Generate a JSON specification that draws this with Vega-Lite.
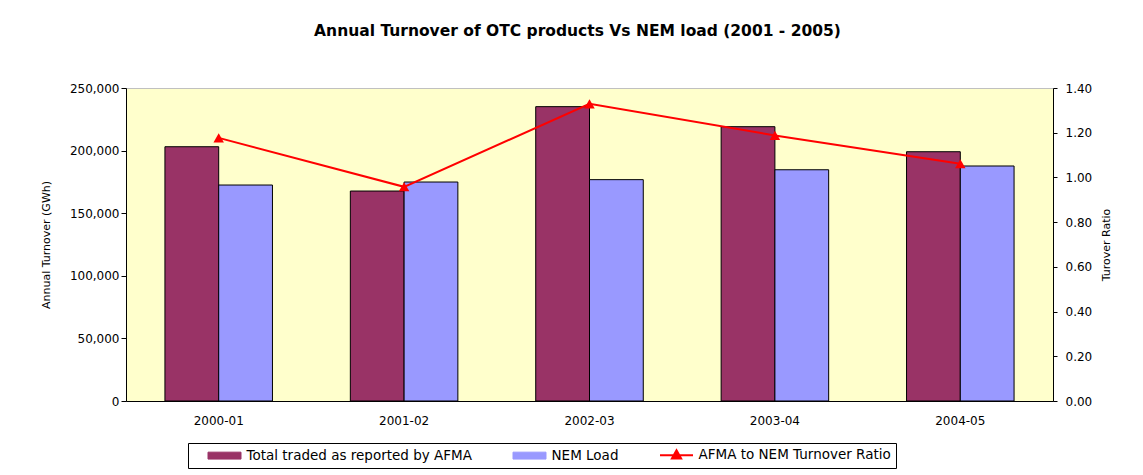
{
  "$schema": "https://vega.github.io/schema/vega-lite/v6.json",
  "width": 927,
  "height": 313,
  "autosize": {"type": "none"},
  "padding": {"left": 126, "top": 88, "right": 90, "bottom": 74},
  "background": "white",
  "title": {
    "text": "Annual Turnover of OTC products Vs NEM load (2001 - 2005)",
    "font": "DejaVu Sans",
    "fontSize": 15.5,
    "fontWeight": "bold",
    "color": "black",
    "anchor": "middle",
    "frame": "group",
    "dx": -12,
    "offset": 43
  },
  "datasets": {
    "bars": [
      {"year": "2000-01", "series": "Total traded as reported by AFMA", "value": 203100},
      {"year": "2000-01", "series": "NEM Load", "value": 172500},
      {"year": "2001-02", "series": "Total traded as reported by AFMA", "value": 167700},
      {"year": "2001-02", "series": "NEM Load", "value": 174900},
      {"year": "2002-03", "series": "Total traded as reported by AFMA", "value": 235100},
      {"year": "2002-03", "series": "NEM Load", "value": 176800},
      {"year": "2003-04", "series": "Total traded as reported by AFMA", "value": 219100},
      {"year": "2003-04", "series": "NEM Load", "value": 184700},
      {"year": "2004-05", "series": "Total traded as reported by AFMA", "value": 199100},
      {"year": "2004-05", "series": "NEM Load", "value": 187700}
    ],
    "ratio": [
      {"year": "2000-01", "series": "AFMA to NEM Turnover Ratio", "ratio": 1.177},
      {"year": "2001-02", "series": "AFMA to NEM Turnover Ratio", "ratio": 0.958},
      {"year": "2002-03", "series": "AFMA to NEM Turnover Ratio", "ratio": 1.329},
      {"year": "2003-04", "series": "AFMA to NEM Turnover Ratio", "ratio": 1.188},
      {"year": "2004-05", "series": "AFMA to NEM Turnover Ratio", "ratio": 1.061}
    ]
  },
  "config": {
    "view": {"fill": "#FFFFCC", "stroke": "#C0C0C0", "strokeWidth": 1},
    "font": "DejaVu Sans",
    "axis": {
      "domainColor": "black",
      "tickColor": "black",
      "labelColor": "black",
      "titleColor": "black",
      "labelFont": "DejaVu Sans",
      "titleFont": "DejaVu Sans",
      "labelFontSize": 12,
      "titleFontSize": 11,
      "titleFontWeight": "normal",
      "grid": false,
      "tickSize": 5
    },
    "legend": {
      "orient": "none",
      "legendX": 62,
      "legendY": 355,
      "direction": "horizontal",
      "columns": 3,
      "strokeColor": "black",
      "fillColor": "white",
      "padding": 5,
      "columnPadding": 26,
      "labelFont": "DejaVu Sans",
      "labelFontSize": 13.5,
      "labelColor": "black",
      "labelOffset": 40,
      "labelLimit": 400,
      "symbolType": "M-1,-0.21H1V0.21H-1Z",
      "symbolSize": 1089,
      "symbolStrokeColor": "black",
      "symbolStrokeWidth": 1,
      "symbolOpacity": 1
    }
  },
  "layer": [
    {
      "data": {"name": "bars"},
      "mark": {"type": "bar", "stroke": "black", "strokeWidth": 1, "opacity": 1},
      "encoding": {
        "x": {
          "field": "year",
          "type": "nominal",
          "sort": null,
          "scale": {"paddingInner": 0.42, "paddingOuter": 0.21},
          "axis": {"title": null, "labelAngle": 0, "ticks": false, "labelPadding": 14}
        },
        "xOffset": {
          "field": "series",
          "type": "nominal",
          "scale": {"domain": ["Total traded as reported by AFMA", "NEM Load"], "paddingInner": 0, "paddingOuter": 0}
        },
        "y": {
          "field": "value",
          "type": "quantitative",
          "scale": {"domain": [0, 250000], "nice": false},
          "axis": {
            "title": "Annual Turnover (GWh)",
            "values": [0, 50000, 100000, 150000, 200000, 250000],
            "format": ",d",
            "labelPadding": 2,
            "titlePadding": 18
          }
        },
        "color": {
          "field": "series",
          "type": "nominal",
          "scale": {
            "domain": ["Total traded as reported by AFMA", "NEM Load", "AFMA to NEM Turnover Ratio"],
            "range": ["#993366", "#9999FF", "#FF0000"]
          },
          "legend": {
            "title": null,
            "encode": {
              "symbols": {
                "update": {
                  "x": {"value": 31.5},
                  "shape": {"signal": "datum.value === 'AFMA to NEM Turnover Ratio' ? 'M-1,0H1M0,-0.3L0.28,0.2H-0.28Z' : 'M-1,-0.21H1V0.21H-1Z'"},
                  "stroke": {"signal": "datum.value === 'AFMA to NEM Turnover Ratio' ? '#FF0000' : '#000000'"},
                  "strokeWidth": {"signal": "datum.value === 'AFMA to NEM Turnover Ratio' ? 2 : 1"}
                }
              }
            }
          }
        }
      }
    },
    {
      "data": {"name": "ratio"},
      "mark": {
        "type": "line",
        "strokeWidth": 2,
        "point": {"shape": "triangle-up", "size": 110, "filled": true, "opacity": 1}
      },
      "encoding": {
        "x": {"field": "year", "type": "nominal", "sort": null},
        "y": {
          "field": "ratio",
          "type": "quantitative",
          "scale": {"domain": [0, 1.4], "nice": false},
          "axis": {
            "orient": "right",
            "title": "Turover Ratio",
            "titleAngle": 270,
            "values": [0, 0.2, 0.4, 0.6, 0.8, 1.0, 1.2, 1.4],
            "format": ".2f",
            "tickSize": 4,
            "labelPadding": 8,
            "titlePadding": 20
          }
        },
        "color": {"field": "series", "type": "nominal"}
      }
    }
  ],
  "resolve": {"scale": {"y": "independent"}}
}
